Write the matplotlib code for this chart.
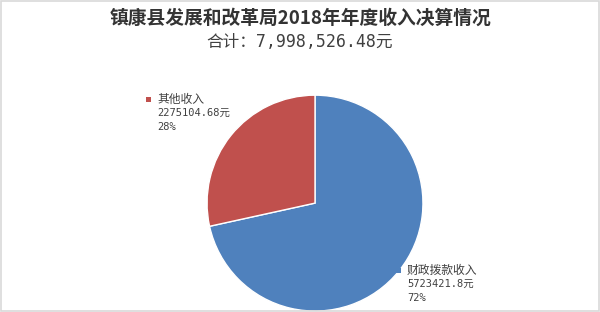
import matplotlib
matplotlib.use("Agg")
import matplotlib.pyplot as plt
from matplotlib.patches import Rectangle

plt.rcParams['font.family'] = ['Noto Sans CJK SC', 'DejaVu Sans']
MONO = ['DejaVu Sans Mono', 'Noto Sans CJK SC']

# 数据
categories = ["财政拨款收入", "其他收入"]
values = [5723421.8, 2275104.68]
value_labels = ["5723421.8元", "2275104.68元"]
colors = ["#4F81BD", "#C0504D"]
title = "镇康县发展和改革局2018年年度收入决算情况"
subtitle = "合计：7,998,526.48元"

fig = plt.figure(figsize=(6.0, 3.12), dpi=100)
fig.patch.set_facecolor("white")
# 外框
fig.add_artist(Rectangle((0.002, 0.003), 0.996, 0.994, transform=fig.transFigure,
                         fill=False, edgecolor="#D9D9D9", linewidth=1.2))

fig.text(0.5, 0.942, title, ha="center", va="center", fontsize=13.5,
         fontweight="bold", color="#333333")
fig.text(0.5, 0.865, subtitle, ha="center", va="center", fontsize=12,
         color="#404040", family=MONO)

ax = fig.add_axes([0.345, 0.003, 0.36, 0.692])
ax.pie(values, colors=colors, startangle=90, counterclock=False,
       wedgeprops=dict(edgecolor="white", linewidth=1.0))
ax.set_xlim(-1.0, 1.0)
ax.set_ylim(-1.0, 1.0)
ax.set_aspect("equal")

total = sum(values)
pcts = [f"{round(v / total * 100)}%" for v in values]

# 标签位置（像素 -> 图比例）
label_pos = {0: (407, 270), 1: (157, 99)}
for i, (x, y) in label_pos.items():
    fx, fy = x / 600, 1 - y / 312
    fig.add_artist(Rectangle((fx - 11 / 600, fy - 3 / 312), 5 / 600, 5 / 312,
                             transform=fig.transFigure, facecolor=colors[i], edgecolor="none"))
    fig.text(fx, fy, categories[i], ha="left", va="center", fontsize=8.5, color="#404040")
    fig.text(fx, fy - 14 / 312, value_labels[i], ha="left", va="center", fontsize=7.5,
             color="#404040", family=MONO)
    fig.text(fx, fy - 28 / 312, pcts[i], ha="left", va="center", fontsize=7.5,
             color="#404040", family=MONO)

fig.savefig("out.png", dpi=100)
